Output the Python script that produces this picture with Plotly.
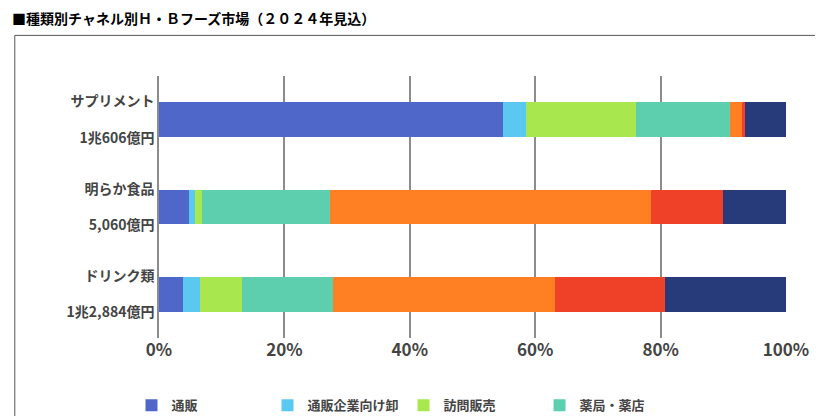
import plotly.graph_objects as go

categories = ['サプリメント<br><br>1兆606億円', '明らか食品<br><br>5,060億円', 'ドリンク類<br><br>1兆2,884億円']
channels = ['通販', '通販企業向け卸', '訪問販売', '薬局・薬店', '量販店', 'ＣＶＳ', 'その他']
colors = ['#4F67C9', '#5BC8F2', '#A8E84E', '#5DCFAF', '#FF7F22', '#EE4127', '#273A7A']
shares = {
    '通販':         [54.9, 4.8, 3.8],
    '通販企業向け卸': [3.6, 1.0, 2.7],
    '訪問販売':      [17.6, 1.0, 6.8],
    '薬局・薬店':    [14.9, 20.4, 14.5],
    '量販店':        [2.1, 51.3, 35.4],
    'ＣＶＳ':        [0.3, 11.5, 17.5],
    'その他':        [6.6, 10.0, 19.3],
}

fig = go.Figure()
for ch, col in zip(channels, colors):
    fig.add_trace(go.Bar(
        y=categories, x=shares[ch], name=ch, orientation='h',
        marker=dict(color=col, line=dict(width=0)),
    ))

fig.update_layout(
    barmode='stack', bargap=0.6,
    width=823, height=416, plot_bgcolor='white', paper_bgcolor='white',
    margin=dict(l=151, r=45, t=68, b=86, autoexpand=False),
    font=dict(family='Noto Sans CJK JP', color='#333', size=14),
    title=dict(text='■種類別チャネル別Ｈ・Ｂフーズ市場（２０２４年見込）', x=0.005, y=0.985,
               xanchor='left', yanchor='top', font=dict(size=14, color='#000', weight='bold')),
    xaxis=dict(range=[0, 100], dtick=20, ticksuffix='%', showgrid=True, gridcolor='#8c8c8c',
               gridwidth=1.5, zeroline=False, tickfont=dict(size=17, color='#444', weight='bold'),
               showline=False, ticklen=0, automargin=False),
    yaxis=dict(autorange='reversed', tickfont=dict(size=14, color='#444', weight='bold'),
               showline=True, linecolor='#8c8c8c', linewidth=1.5, ticklen=0, automargin=False),
    legend=dict(orientation='h', x=0.37, xanchor='center', y=-0.2, yanchor='top',
                font=dict(size=13, color='#444', weight='bold'), traceorder='normal',
                itemwidth=30, entrywidth=0, tracegroupgap=0),
    shapes=[dict(type='rect', xref='paper', yref='paper', x0=-0.23, x1=1.052, y0=-0.33, y1=1.155,
                 line=dict(color='#555', width=1))],
)
fig.write_html('out.html')
